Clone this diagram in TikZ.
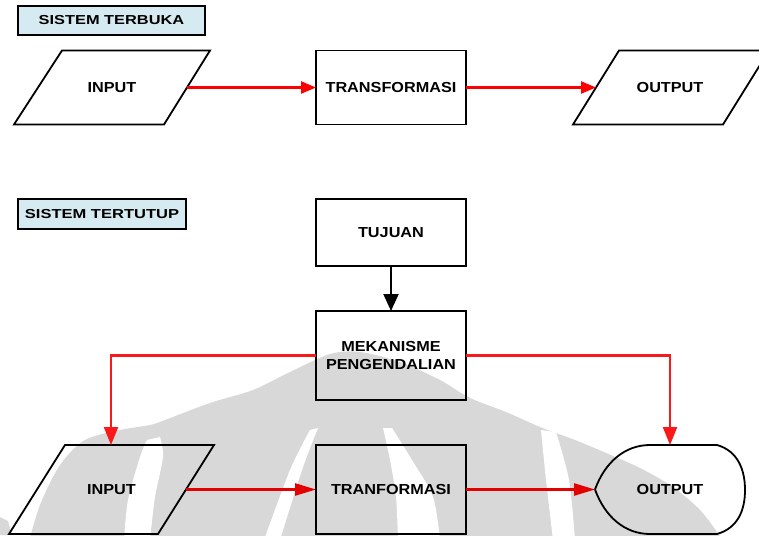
\documentclass[tikz,border=0pt]{standalone}
\usepackage{fontspec}
\setmainfont{Liberation Sans}
\usetikzlibrary{arrows.meta}

\definecolor{wmgray}{RGB}{216,216,216}
\definecolor{tagblue}{RGB}{214,235,241}
\definecolor{flowred}{RGB}{250,24,24}
\definecolor{flowdark}{RGB}{226,0,0}

% widened bold caption text
\newcommand{\wide}[2][1.12]{\scalebox{#1}[1]{#2}}

\begin{document}
\begin{tikzpicture}[x=1pt,y=-1pt,
  every node/.style={font=\fontsize{14.5}{15}\selectfont\bfseries, inner sep=0pt, outer sep=0pt},
  edge/.style={draw=black, line width=1.8pt, line join=miter},
  procbox/.style={edge, rectangle, minimum width=150pt},
  tagbox/.style={edge, rectangle, fill=tagblue, font=\fontsize{13}{14}\selectfont\bfseries},
  flow/.style={draw=flowred, line width=2.2pt, -{Triangle[length=18pt,width=14pt]}},
  flowtop/.style={draw=red, line width=2.2pt, -{Triangle[length=15pt,width=12pt]}},
  flowlow/.style={draw=flowdark, line width=2.4pt, -{Triangle[length=21pt,width=12pt]}},
  ctrl/.style={draw=black, line width=2pt, -{Triangle[length=17pt,width=15pt]}}
]
\clip (0,0) rectangle (759,535);
\fill[white] (0,0) rectangle (759,535);

% ---- faint emblem behind the closed system ----
\fill[wmgray] plot[smooth] coordinates {(28,545) (40,505) (60,465) (85,440) (120,430)
   (150,425) (165,420) (210,403) (253,390) (290,372) (330,354) (360,352) (400,362)
   (440,380) (470,398) (506,412) (540,427) (575,440) (606,453) (640,468) (673,487)
   (700,510) (719,535) (725,548)} -- (725,560) -- (28,560) -- cycle;
\fill[wmgray] (0,517) -- (8,521) -- (12,535) -- (0,535) -- cycle;
\fill[white] plot[smooth] coordinates {(160,437) (163,457) (155,497) (150,540)}
   -- plot[smooth] coordinates {(124,540) (128,500) (140,457) (147,440)} -- cycle;
\fill[white] plot[smooth] coordinates {(318,428) (302,470) (280,540)}
   -- plot[smooth] coordinates {(264,540) (290,470) (310,430)} -- cycle;
\fill[white] plot[smooth] coordinates {(383,428) (390,460) (396,497) (398,540)}
   -- plot[smooth] coordinates {(440,540) (433,497) (412,460) (392,428)} -- cycle;
\fill[white] plot[smooth] coordinates {(541,430) (546,480) (553,540)}
   -- plot[smooth] coordinates {(575,540) (569,480) (556,432)} -- cycle;

% ---- open system ----
\node[tagbox, minimum width=187pt, minimum height=29pt] (tag1) at (111.5,20.5) {\wide[1.26]{SISTEM TERBUKA}};

\draw[edge] (62,50.5) -- (210,50.5) -- (164,124.5) -- (14,124.5) -- cycle;
\node (in1) at (112,87.5) {\wide{INPUT}};
\coordinate (in1e) at (187,87.5);

\node[procbox, minimum height=74pt] (tr1) at (391,87.5) {\wide{TRANSFORMASI}};

\draw[edge] (619,50.5) -- (769,50.5) -- (723,124.5) -- (573,124.5) -- cycle;
\node (out1) at (670,87.5) {\wide{OUTPUT}};
\coordinate (out1w) at (596,87.5);

\draw[flowtop] (in1e) -- (tr1.west);
\draw[flowtop] (tr1.east) -- (out1w);

% ---- closed system ----
\node[tagbox, minimum width=168pt, minimum height=30pt] (tag2) at (102,214) {\wide[1.27]{SISTEM TERTUTUP}};
\node[procbox, minimum height=67pt] (tj) at (391,232.5) {\wide{TUJUAN}};
\node[procbox, minimum height=89pt, align=center] (mk) at (391,355.5)
   {\wide{MEKANISME}\\[3.5pt]\wide{PENGENDALIAN}};

\draw[edge] (65,445) -- (214,445) -- (158,534) -- (9,534) -- cycle;
\node (in2) at (111.5,489.5) {\wide{INPUT}};
\coordinate (in2e) at (186,489.5);
\coordinate (in2n) at (111,445);

\node[procbox, minimum height=89pt] (tr2) at (391,489.5) {\wide{TRANFORMASI}};

% display-shaped output
\node (out2) at (670,489.5) {\wide{OUTPUT}};
\coordinate (out2w) at (595,489.5);
\coordinate (out2n) at (670,445);
\draw[edge, line join=round] (out2w) .. controls (605,462) and (625,445) .. (650,445) -- (717,445)
   .. controls (738,451) and (745,470) .. (745,490)
   .. controls (745,510) and (738,528) .. (717,534) -- (650,534)
   .. controls (625,534) and (605,517) .. (out2w);

\draw[ctrl] (tj.south) -- (mk.north);
\draw[flow] (mk.west) -| (in2n);
\draw[flow] (mk.east) -| (out2n);
\draw[flowlow] (in2e) -- (tr2.west);
\draw[flowlow] (tr2.east) -- (out2w);
\end{tikzpicture}
\end{document}
